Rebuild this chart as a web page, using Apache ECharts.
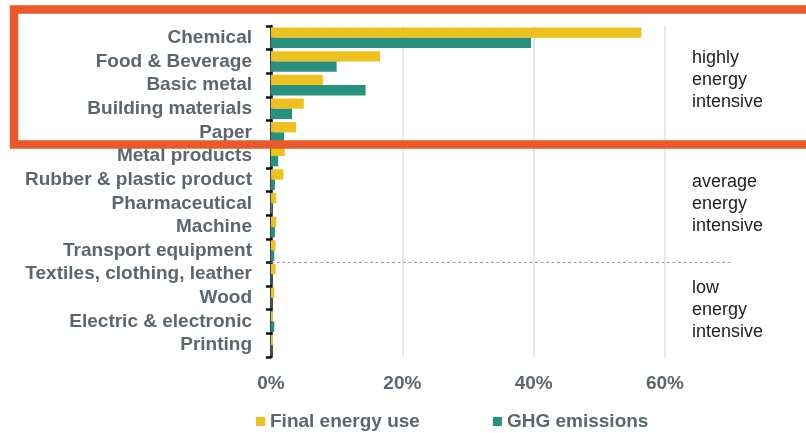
<!DOCTYPE html>
<html>
<head>
<meta charset="utf-8">
<script src="https://cdn.jsdelivr.net/npm/echarts@6/dist/echarts.min.js"></script>
<style>
  html, body { margin: 0; padding: 0; background: #ffffff; }
  #chart { width: 806px; height: 433px; }
</style>
</head>
<body>
<div id="chart"></div>
<script>
// Industrial sectors, ordered by energy intensity
const sectors = [
  'Chemical', 'Food & Beverage', 'Basic metal', 'Building materials', 'Paper',
  'Metal products', 'Rubber & plastic product', 'Pharmaceutical', 'Machine',
  'Transport equipment', 'Textiles, clothing, leather', 'Wood',
  'Electric & electronic', 'Printing'
];
// Share of industrial final energy use (%)
const finalEnergyUse = [56.4, 16.6, 7.9, 5.0, 3.8, 2.1, 1.9, 0.8, 0.8, 0.7, 0.7, 0.5, 0.3, 0.3];
// Share of industrial GHG emissions (%)
const ghgEmissions = [39.6, 10.0, 14.4, 3.2, 2.0, 1.1, 0.6, 0.2, 0.6, 0.5, 0.1, 0.1, 0.5, 0.1];
// Value-axis ticks (%)
const xTicks = [0, 20, 40, 60];
// Group notes on the right
const groupNotes = [
  ['highly', 'energy', 'intensive'],
  ['average', 'energy', 'intensive'],
  ['low', 'energy', 'intensive']
];

const FONT = '"Liberation Sans", Arial, sans-serif';
const GREY = '#5b666e';
const YELLOW = '#efc11f';
const TEAL = '#27907f';

const chart = echarts.init(document.getElementById('chart'), null, { renderer: 'canvas' });

const option = {
  animation: false,
  backgroundColor: '#ffffff',
  grid: { left: 271, right: 141, top: 26, bottom: 76, containLabel: false },
  legend: {
    top: 407,
    left: 251,
    itemWidth: 9,
    itemHeight: 9,
    itemGap: 73,
    icon: 'rect',
    textStyle: { fontFamily: FONT, fontWeight: 'bold', fontSize: 19, color: GREY },
    data: ['Final energy use', 'GHG emissions']
  },
  xAxis: {
    type: 'value',
    min: xTicks[0],
    max: xTicks[xTicks.length - 1],
    interval: xTicks[1] - xTicks[0],
    axisLine: { show: false },
    axisTick: { show: false },
    splitLine: { show: true, lineStyle: { color: '#e0e0e0', width: 1.5 } },
    axisLabel: {
      margin: 17,
      fontFamily: FONT, fontWeight: 'bold', fontSize: 19, color: GREY,
      formatter: v => v + '%'
    }
  },
  yAxis: {
    type: 'category',
    inverse: true,
    data: sectors,
    axisLine: { show: true, lineStyle: { color: '#111111', width: 2.5 } },
    axisTick: { show: true, length: 5, inside: false, lineStyle: { color: '#111111', width: 2.5 } },
    axisLabel: {
      interval: 0,
      margin: 19,
      fontFamily: FONT, fontWeight: 'bold', fontSize: 19, color: GREY,
      padding: [3, 0, 0, 0]
    }
  },
  series: [
    {
      name: 'Final energy use',
      type: 'bar',
      data: finalEnergyUse,
      barWidth: 10.3,
      barGap: '0%',
      itemStyle: { color: YELLOW },
      z: 2
    },
    {
      name: 'GHG emissions',
      type: 'bar',
      data: ghgEmissions,
      barWidth: 10.3,
      barGap: '0%',
      itemStyle: { color: TEAL },
      z: 2
    }
  ]
};

chart.setOption(option);

// Separator between the average and low intensity groups, plus group notes and highlight frame
function addOverlays() {
  const yA = chart.convertToPixel({ yAxisIndex: 0 }, sectors[9]);
  const yB = chart.convertToPixel({ yAxisIndex: 0 }, sectors[10]);
  const sepY = (yA + yB) / 2;
  const x0 = chart.convertToPixel({ xAxisIndex: 0 }, 0);

  const noteTops = [47, 171, 277];
  const graphics = [
    {
      type: 'line',
      shape: { x1: x0, y1: sepY, x2: 733, y2: sepY },
      style: { stroke: '#9a9a9a', lineWidth: 1, lineDash: [3, 2.5] },
      z: 5
    }
  ];
  groupNotes.forEach((lines, i) => {
    graphics.push({
      type: 'text',
      left: 692,
      top: noteTops[i],
      style: {
        text: lines.join('\n'),
        font: '18px ' + FONT,
        fill: '#222222',
        lineHeight: 22
      },
      z: 5
    });
  });
  graphics.push({
    type: 'rect',
    shape: { x: 14, y: 9.5, width: 820, height: 135 },
    style: { fill: 'none', stroke: '#e9592b', lineWidth: 8.5 },
    z: 20
  });
  chart.setOption({ graphic: graphics });
}
addOverlays();
</script>
</body>
</html>
